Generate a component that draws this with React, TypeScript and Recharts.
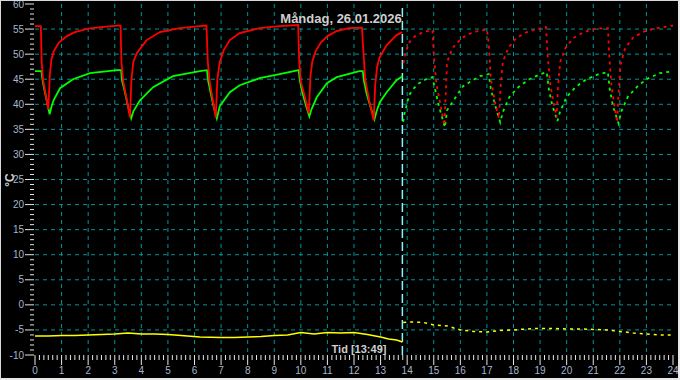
import React from 'react'
import { LineChart, Line, XAxis, YAxis, CartesianGrid, ReferenceLine } from 'recharts'

// hour labels and temperature ticks
const hourTicks = [0, 1, 2, 3, 4, 5, 6, 7, 8, 9, 10, 11, 12, 13, 14, 15, 16, 17, 18, 19, 20, 21, 22, 23, 24]
const tempTicks = [-10, -5, 0, 5, 10, 15, 20, 25, 30, 35, 40, 45, 50, 55, 60]

const nowHour = 13.82 // 13:49

// measured (solid) and forecast (dotted) series as [hour, °C]
const redMeasured = [
  [0, 55.6], [0.22, 55.6], [0.25, 48.5], [0.3, 45], [0.4, 42], [0.5, 39.0], [0.56, 46], [0.62, 49], [0.7, 50.5],
  [0.9, 52.3], [1.2, 53.6], [1.5, 54.4], [2.0, 55.1], [2.5, 55.4], [3.1, 55.7], [3.22, 55.7],
  [3.25, 48.5], [3.32, 44.5], [3.45, 41], [3.57, 37.4], [3.63, 45], [3.7, 48.5], [3.83, 50.2], [4.2, 52.8],
  [4.7, 54.4], [5.45, 55.2], [6.2, 55.6], [6.45, 55.7],
  [6.5, 48.5], [6.57, 44.5], [6.68, 41], [6.8, 37.4], [6.86, 45], [6.95, 48.4], [7.1, 50.8], [7.33, 52.8],
  [7.7, 54.2], [8.45, 55.2], [9.2, 55.6], [9.9, 55.8],
  [9.94, 48.5], [10.0, 44.5], [10.15, 41.5], [10.3, 38.2], [10.36, 45.5], [10.43, 48.5], [10.55, 50.5],
  [10.75, 52.3], [11.0, 53.6], [11.35, 54.6], [11.8, 55.2], [12.3, 55.3],
  [12.36, 50], [12.42, 45], [12.58, 40.5], [12.74, 36.8], [12.8, 44], [12.87, 47.5], [12.97, 49.4],
  [13.23, 51.8], [13.6, 53.8], [13.82, 54.4],
]
const redForecast = [
  [13.86, 48.2], [13.95, 50.5], [14.1, 52.5], [14.3, 53.6], [14.6, 54.4], [14.95, 54.8],
  [15.0, 50], [15.1, 44], [15.25, 40], [15.4, 35.8], [15.45, 42], [15.5, 48.4], [15.7, 51.2], [16.05, 53.2],
  [16.47, 54.4], [17.0, 54.9],
  [17.07, 52], [17.15, 45], [17.3, 40.5], [17.45, 37.2], [17.52, 44], [17.6, 48.5], [17.8, 51.2], [18.1, 53.2],
  [18.5, 54.4], [18.9, 55.0], [19.22, 55.4],
  [19.28, 50], [19.38, 44], [19.5, 40.5], [19.62, 37.4], [19.68, 44], [19.76, 48.5], [19.95, 51.2],
  [20.25, 53.2], [20.65, 54.4], [21.1, 55.1], [21.55, 55.2],
  [21.6, 50], [21.68, 44], [21.8, 39.5], [21.9, 36.4], [21.95, 42], [22.03, 48], [22.2, 51.2], [22.5, 53.3],
  [22.9, 54.5], [23.4, 55.2], [24, 55.7],
]
const greenMeasured = [
  [0, 46.6], [0.24, 46.6], [0.28, 45], [0.33, 43.5], [0.45, 40.5], [0.55, 38.0], [0.62, 39.5], [0.7, 40.8],
  [0.94, 43.2], [1.43, 45.0], [2.07, 46.2], [3.08, 46.8], [3.24, 46.8],
  [3.27, 44.8], [3.38, 42.5], [3.5, 39.5], [3.62, 37.2], [3.7, 38.6], [3.95, 40.8], [4.44, 43.4],
  [5.19, 45.6], [6.2, 46.6], [6.47, 46.8],
  [6.51, 44.8], [6.6, 42.5], [6.72, 39.5], [6.84, 37.2], [6.95, 39.6], [7.33, 42.4], [7.7, 43.8],
  [8.45, 45.2], [9.2, 46.0], [9.92, 46.8],
  [9.96, 44.8], [10.05, 42.5], [10.18, 40], [10.32, 37.6], [10.4, 39], [10.6, 41.4], [10.98, 44.2],
  [11.35, 45.4], [12.2, 46.6], [12.33, 46.6],
  [12.38, 44.5], [12.48, 42], [12.62, 39.5], [12.77, 37.0], [12.85, 38.6], [12.97, 40.4], [13.23, 42.4],
  [13.6, 44.8], [13.82, 45.6],
]
const greenForecast = [
  [13.85, 36.5], [13.9, 38.2], [13.97, 39.6], [14.07, 41.8], [14.25, 43.2], [14.45, 44.2], [14.7, 45.0],
  [14.95, 45.4],
  [15.05, 43], [15.2, 39.5], [15.42, 35.4], [15.5, 38.8], [15.8, 41.2], [16.1, 43.6], [16.47, 44.8],
  [16.73, 45.6], [17.07, 46.0],
  [17.15, 43], [17.3, 40], [17.5, 36.4], [17.6, 38.5], [17.85, 41.5], [18.2, 43.5], [18.6, 45], [19.0, 46],
  [19.25, 46.4],
  [19.33, 43], [19.45, 40], [19.65, 36.6], [19.75, 38.5], [20.0, 41.5], [20.35, 43.5], [20.75, 45],
  [21.2, 46], [21.55, 46.4],
  [21.62, 43], [21.75, 39.5], [21.95, 36.2], [22.05, 38.5], [22.3, 41.5], [22.65, 43.5], [23.0, 45],
  [23.5, 46.2], [24, 46.6],
]
const yellowMeasured = [
  [0, -6.2], [0.5, -6.2], [1, -6.1], [1.5, -6.1], [2, -6.0], [2.5, -5.9], [3, -5.8], [3.5, -5.6], [4, -5.8],
  [4.5, -5.8], [5, -5.9], [5.5, -6.1], [6.2, -6.4], [7, -6.5], [7.5, -6.5], [8, -6.4], [8.5, -6.3], [9, -6.1],
  [9.5, -6.0], [10, -5.5], [10.5, -5.8], [11, -5.5], [11.5, -5.6], [12, -5.5], [12.5, -5.9], [13, -6.4],
  [13.3, -6.8], [13.6, -7.0], [13.82, -7.4],
]
const yellowForecast = [
  [13.85, -3.5], [14.2, -3.4], [14.6, -3.5], [15, -4.0], [15.5, -4.2], [16, -5.0], [16.5, -5.3], [17, -5.4],
  [17.5, -5.1], [18, -5.0], [18.5, -4.8], [19, -4.7], [19.5, -4.7], [20, -4.8], [20.5, -4.8], [21, -4.9],
  [21.5, -5.0], [22, -5.3], [22.5, -5.6], [23, -5.8], [23.5, -6.0], [24, -6.0],
]

const toPoints = (pairs: number[][]) => pairs.map(([x, y]) => ({ x, y }))

// 10 minute sub ticks and 1 degree sub ticks
const xTicks = hourTicks.flatMap(h => (h < 24 ? [0, 1, 2, 3, 4, 5].map(k => h + k / 6) : [h]))
const yTicks = tempTicks.flatMap(t => (t < 60 ? [0, 1, 2, 3, 4].map(k => t + k) : [t]))

const labelColor = '#a6b6cc'
const tickColor = '#e6e6e6'
const font = '"Liberation Sans", Arial, sans-serif'

const isMajor = (v: number, step: number) => Math.abs(v / step - Math.round(v / step)) < 1e-6

const XTick = (props: any) => {
  const { x, y, payload } = props
  const v = payload.value
  const major = isMajor(v, 1)
  return (
    <g>
      <line x1={x} x2={x} y1={y} y2={y + (major ? 10 : 5)} stroke={tickColor} strokeWidth={1} />
      {major && (
        <text x={x} y={y + 19} textAnchor="middle" fill={labelColor} fontSize={10} fontFamily={font}>
          {Math.round(v)}
        </text>
      )}
    </g>
  )
}

const YTick = (props: any) => {
  const { x, y, payload } = props
  const v = payload.value
  const major = isMajor(v, 5)
  return (
    <g>
      <line x1={major ? x - 10 : x - 5} x2={x - 1} y1={y} y2={y} stroke={tickColor} strokeWidth={1} />
      {major && (
        <text x={x - 11} y={y + 3.5} textAnchor="end" fill={labelColor} fontSize={10} fontFamily={font}>
          {v}
        </text>
      )}
    </g>
  )
}

export default function App() {
  return (
    <div style={{ position: 'absolute', left: 0, top: 0, width: 680, height: 380, background: '#000' }}>
      <LineChart width={680} height={380} margin={{ top: 4, right: 7, bottom: 0, left: 0 }}>
        <CartesianGrid
          stroke="#009494"
          strokeDasharray="4 4"
          horizontalValues={tempTicks.slice(1, -1)}
          verticalValues={hourTicks.slice(1, -1)}
        />
        <XAxis
          type="number"
          dataKey="x"
          domain={[0, 24]}
          ticks={xTicks}
          interval={0}
          height={25}
          axisLine={false}
          tickLine={false}
          tickSize={0}
          tickMargin={0}
          tick={<XTick />}
          allowDataOverflow
        />
        <YAxis
          type="number"
          dataKey="y"
          domain={[-10, 60]}
          ticks={yTicks}
          interval={0}
          width={35}
          axisLine={false}
          tickLine={false}
          tickSize={0}
          tickMargin={0}
          tick={<YTick />}
          allowDataOverflow
        />
        <ReferenceLine x={nowHour} stroke="#8ef2fc" strokeWidth={1.5} strokeDasharray="9 4" />
        <Line data={toPoints(yellowMeasured)} dataKey="y" stroke="#ffff00" strokeWidth={1.5} dot={false} isAnimationActive={false} />
        <Line data={toPoints(yellowForecast)} dataKey="y" stroke="#ffff00" strokeWidth={1.5} strokeDasharray="3 4" dot={false} isAnimationActive={false} />
        <Line data={toPoints(greenMeasured)} dataKey="y" stroke="#00ff00" strokeWidth={1.8} dot={false} isAnimationActive={false} />
        <Line data={toPoints(greenForecast)} dataKey="y" stroke="#00ff00" strokeWidth={1.8} strokeDasharray="3 4" dot={false} isAnimationActive={false} />
        <Line data={toPoints(redMeasured)} dataKey="y" stroke="#ff0000" strokeWidth={1.8} dot={false} isAnimationActive={false} />
        <Line data={toPoints(redForecast)} dataKey="y" stroke="#ff0000" strokeWidth={1.8} strokeDasharray="3 4" dot={false} isAnimationActive={false} />
      </LineChart>
      <svg width={680} height={380} style={{ position: 'absolute', left: 0, top: 0, pointerEvents: 'none' }}>
        <text x={341} y={23} textAnchor="middle" fill="#cfcfcf" fontSize={13} fontWeight="bold" fontFamily={font}>
          Måndag, 26.01.2026
        </text>
        <text x={359} y={353} textAnchor="middle" fill="#cfcfcf" fontSize={11} fontWeight="bold" fontFamily={font}>
          Tid [13:49]
        </text>
        <text x={14} y={180} textAnchor="middle" transform="rotate(-90 14 180)" fill="#cfcfcf" fontSize={12} fontWeight="bold" fontFamily={font}>
          °C
        </text>
      </svg>
      <div
        style={{
          position: 'absolute', left: 0, top: 0, width: 680, height: 380, boxSizing: 'border-box',
          borderLeft: '1px solid #d8d8d8', borderTop: '1px solid #d8d8d8',
          borderRight: '2px solid #e8e8e8', borderBottom: '2px solid #e8e8e8', pointerEvents: 'none',
        }}
      />
    </div>
  )
}
